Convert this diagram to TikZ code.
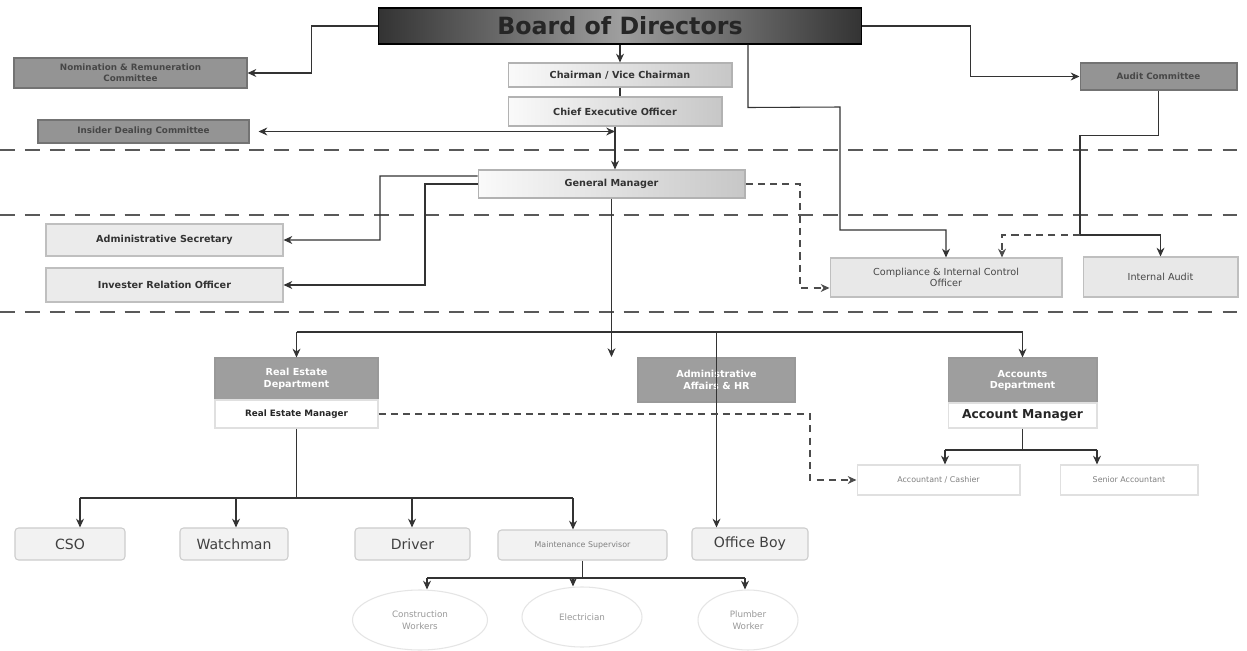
\documentclass[tikz,border=0pt]{standalone}
\usepackage{fontspec}
\setmainfont{DejaVu Sans}
\usetikzlibrary{shapes.geometric,arrows.meta}

\begin{document}
\begin{tikzpicture}[x=0.02cm, y=-0.02cm, line width=0.6pt,
        >={Stealth[length=5pt,width=4.5pt]},
        board/.style={draw=black, left color=black!80, right color=black!80, middle color=black!38,
            text=black!85, font=\fontsize{13.5}{15}\selectfont\bfseries,
            minimum width=9.68cm, minimum height=0.72cm},
        committee/.style={draw=black!55, fill=black!42, text=black!72, align=center, inner sep=1pt,
            font=\fontsize{5}{6}\selectfont\bfseries},
        officer/.style={draw=black!30, left color=black!2, right color=black!22, text=black!80,
            inner sep=1pt, font=\fontsize{5.5}{6.5}\selectfont\bfseries},
        assistant/.style={draw=black!25, fill=black!8, text=black!80, inner sep=1pt,
            font=\fontsize{5.5}{6.5}\selectfont\bfseries},
        staff/.style={draw=black!25, fill=black!9, text=black!72, align=center, inner sep=1pt,
            font=\fontsize{5.5}{6.5}\selectfont},
        dept/.style={draw=black!40, fill=black!38, text=white, align=center, inner sep=1pt,
            font=\fontsize{5.5}{6.5}\selectfont\bfseries},
        manager/.style={draw=black!12, fill=white, text=black!85, inner sep=1pt},
        worker/.style={draw=black!20, fill=black!5, rounded corners=2pt, text=black!75,
            inner sep=1pt, minimum height=0.64cm, font=\fontsize{8}{9}\selectfont},
        helper/.style={draw=black!12, fill=white, text=black!50, inner sep=1pt,
            minimum height=0.6cm, font=\fontsize{4.5}{5.5}\selectfont},
        trade/.style={ellipse, draw=black!10, text=black!40, align=center, inner sep=1pt,
            minimum height=1.2cm, font=\fontsize{5}{7}\selectfont},
        sepline/.style={black!65, dash pattern=on 8.5pt off 5.7pt},
        link/.style={black!80},
        dashlink/.style={black!70, dash pattern=on 4pt off 3pt}]

    \fill[white] (0,0) rectangle (1247,651);
    \useasboundingbox (0,0) rectangle (1247,651);

    \foreach \y in {150, 215, 312}
        \draw[sepline] (0,\y) -- (1247,\y);

    % board and committees
    \node[board] (bod) at (620,26) {Board of Directors};
    \node[committee, minimum width=4.66cm, minimum height=0.6cm] (nomination) at (130.5,73) {Nomination \& Remuneration\\Committee};
    \node[committee, minimum width=4.22cm, minimum height=0.46cm] (insider) at (143.5,131.5) {Insider Dealing Committee};
    \node[committee, minimum width=3.14cm, minimum height=0.54cm] (audit) at (1158.5,76.5) {Audit Committee};
    \node[officer, minimum width=4.48cm, minimum height=0.48cm] (chairman) at (620,75) {Chairman / Vice Chairman};
    \node[officer, minimum width=4.28cm, minimum height=0.58cm] (ceo) at (615,111.5) {Chief Executive Officer};
    \node[officer, minimum width=5.34cm, minimum height=0.56cm] (gm) at (611.5,184) {General Manager};

    % offices below the general manager
    \node[assistant, minimum width=4.74cm, minimum height=0.64cm] (secretary) at (164.5,240) {Administrative Secretary};
    \node[assistant, minimum width=4.74cm, minimum height=0.68cm] (investor) at (164.5,285) {Invester Relation Officer};
    \node[staff, minimum width=4.64cm, minimum height=0.78cm] (compliance) at (946,277.5) {Compliance \& Internal Control\\Officer};
    \node[staff, minimum width=3.1cm, minimum height=0.8cm] (internal) at (1160.5,277) {Internal Audit};

    % departments
    \node[dept, minimum width=3.26cm, minimum height=0.84cm] (realestate) at (296.5,379) {Real Estate\\Department};
    \node[manager, minimum width=3.26cm, minimum height=0.56cm, font=\fontsize{5}{6}\selectfont\bfseries] (remanager) at (296.5,414) {Real Estate Manager};
    \node[dept, minimum width=3.14cm, minimum height=0.88cm] (adminaffairs) at (716.5,380) {Administrative\\Affairs \& HR};
    \node[dept, minimum width=2.98cm, minimum height=0.9cm] (accounts) at (1022.5,380.5) {Accounts\\Department};
    \node[manager, minimum width=2.98cm, minimum height=0.5cm, font=\fontsize{7}{8}\selectfont\bfseries] (acmanager) at (1022.5,415.5) {Account Manager};
    \node[helper, minimum width=3.26cm] (cashier) at (938.5,480) {Accountant / Cashier};
    \node[helper, minimum width=2.76cm] (senior) at (1129,480) {Senior Accountant};

    \foreach \n/\x/\w/\t in {cso/70/2.2/CSO, watchman/234/2.16/Watchman, driver/412.5/2.3/Driver, officeboy/750/2.32/Office Boy}
        \node[worker, minimum width=\w cm] (\n) at (\x,544) {\t};
    \node[worker, minimum width=3.38cm, minimum height=0.6cm, text=black!50, font=\fontsize{4.5}{5.5}\selectfont] (maintenance) at (582.5,545) {Maintenance Supervisor};

    \node[trade, minimum width=2.7cm] (construction) at (420,620) {Construction\\Workers};
    \node[trade, minimum width=2.4cm] (electrician) at (582,617) {Electrician};
    \node[trade, minimum width=2.0cm] (plumber) at (748,620) {Plumber\\Worker};

    \coordinate (auditknee) at (1080,235);
    \coordinate (deptbus) at (613,332);

    % top of the chart
    \draw[link,->] (bod.west) -- ++(-66,0) |- (nomination.east);
    \draw[link,->] (bod.east) -- ++(108,0) |- (audit.west);
    \draw[link,->] (bod.south) -- (chairman.north);
    \draw[link] (chairman.south) -- (chairman.south |- ceo.north);
    \draw[link,->] (ceo.south) -- (ceo.south |- gm.north);
    \draw[link,<->] ([xshift=0.18cm]insider.east) -- (insider.east -| ceo.south);
    \draw[link,->] ([xshift=2.56cm]bod.south) -- ++(0,63) -- (840,107) -- (840,230) -| (compliance.north);
    \draw[link,->] (audit.south) -- ++(0,45) -| (auditknee) -| (internal.north);
    \draw[dashlink,->] (auditknee) -| ([xshift=1.12cm]compliance.north);

    % general manager
    \draw[link,->] ([yshift=0.16cm]gm.west) -- (380,176) |- (secretary.east);
    \draw[link,->] (gm.west) -- (425,184) |- (investor.east);
    \draw[dashlink,->] (gm.east) -- (800,184) |- ([yshift=-0.21cm]compliance.west);
    \draw[link] (gm.south) -- (gm.south |- deptbus);
    \draw[link,->] (gm.south |- deptbus) -- ++(0,25);
    \draw[link] (deptbus -| realestate.north) -- (deptbus -| accounts.north);
    \draw[link,->] (deptbus -| realestate.north) -- (realestate.north);
    \draw[link,->] (deptbus -| accounts.north) -- (accounts.north);
    \draw[link,->] (deptbus -| adminaffairs.north) -- (adminaffairs.north |- officeboy.north);

    % real estate staff
    \draw[link] (remanager.south) -- ++(0,70);
    \draw[link] (80,498) -- (573,498);
    \foreach \n/\x in {cso/80, watchman/236, driver/412, maintenance/573}
        \draw[link,->] (\x,498) -- (\x,498 |- \n.north);
    \draw[dashlink,->] (remanager.east) -- (810,414) |- (cashier.west);

    \draw[link] (maintenance.south) -- ++(0,18);
    \draw[link] (427,578) -- (745,578);
    \foreach \n/\x in {construction/427, electrician/573, plumber/745}
        \draw[link,->] (\x,578) -- (\x,578 |- \n.north);

    % accounts staff
    \draw[link] (acmanager.south) -- ++(0,22);
    \draw[link] (945,450) -- (1097,450);
    \draw[link,->] (945,450) -- (945,450 |- cashier.north);
    \draw[link,->] (1097,450) -- (1097,450 |- senior.north);
\end{tikzpicture}
\end{document}
